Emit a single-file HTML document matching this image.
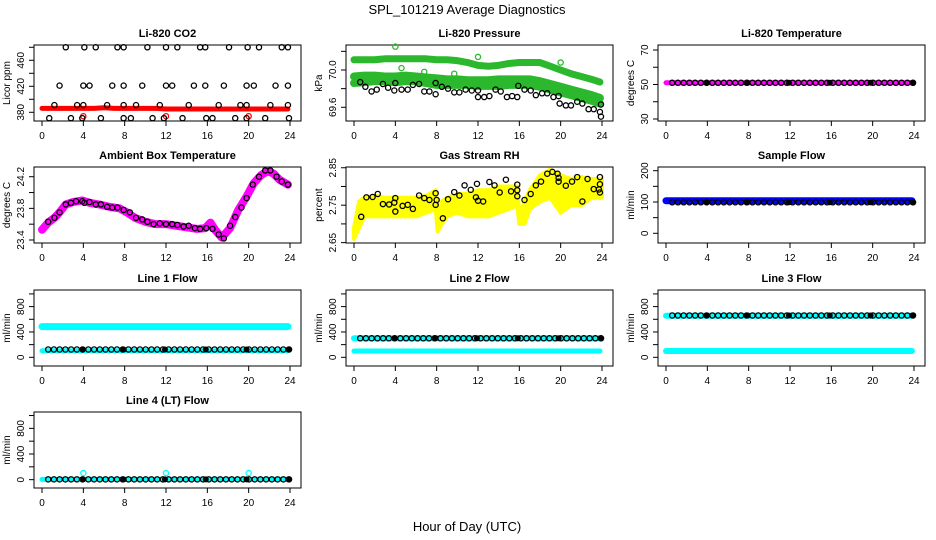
<!DOCTYPE html>
<html><head><meta charset="utf-8"><style>
body{margin:0;background:#fff}
svg{display:block;font-family:"Liberation Sans",Arial,sans-serif}
</style></head><body>
<svg id="chart" width="936" height="540" viewBox="0 0 936 540">
<text x="467" y="14" text-anchor="middle" font-size="13">SPL_101219  Average Diagnostics</text>
<text x="467" y="531" text-anchor="middle" font-size="13">Hour of Day (UTC)</text>
</svg>
<script>
// ---------- data ----------
const xTicks = [0,4,8,12,16,20,24];
const bandHours = [0,1,2,3,4,5,6,7,8,9,10,11,12,13,14,15,16,17,18,19,20,21,22,23,23.8];
// CO2
const co2Red = [386,386,386,386,386,386,387,386,386,386,386,386,385,385,385,385,385,385,385,385,385,385,385,385,385];
const co2BlackHours = [2.3,4.1,5.2,7.3,7.9,10.2,12.0,13.1,15.3,15.8,18.1,19.9,21.0,23.2,23.8,
 1.7,4.0,4.6,6.8,7.9,9.7,12.0,12.6,14.7,15.8,17.6,19.8,20.5,22.6,23.8,
 1.2,3.4,4.0,6.3,7.9,9.1,11.4,14.2,17.1,19.2,19.8,22.1,23.8,
 0.7,2.8,3.9,5.7,7.9,8.6,10.7,11.8,13.6,15.9,16.5,18.7,19.8,21.6,23.9];
const co2BlackVals = [480,480,480,480,480,480,480,480,480,480,480,480,480,480,480,
 421,421,421,421,421,421,421,421,421,421,421,421,421,421,421,
 391,391,391,391,391,391,391,391,391,391,391,391,391,
 371,371,371,371,371,371,371,371,371,371,371,371,371,371,371];
const co2RedOutHours = [4,12,20];
const co2RedOutVals = [374,374,374];
// Pressure
const presUpper = [70.11,70.11,70.11,70.12,70.12,70.12,70.12,70.12,70.11,70.11,70.10,70.08,70.05,70.04,70.05,70.07,70.08,70.08,70.08,70.04,70.00,69.96,69.93,69.90,69.87];
const presLowA = [69.93,69.94,69.94,69.93,69.93,69.94,69.93,69.92,69.91,69.90,69.90,69.89,69.89,69.89,69.90,69.90,69.90,69.90,69.88,69.85,69.82,69.79,69.76,69.73,69.70];
const presLowB = [69.86,69.87,69.88,69.88,69.87,69.88,69.88,69.86,69.84,69.84,69.84,69.84,69.83,69.83,69.83,69.84,69.84,69.84,69.82,69.79,69.76,69.73,69.70,69.67,69.64];
const presGreenOutHours = [4,12,20,4.6,9.7,6.8];
const presGreenOutVals = [70.25,70.14,70.08,70.02,69.96,69.98];
const presBlackHours = [0.6,1.1,1.7,2.2,2.8,3.3,3.9,4.0,4.6,5.2,5.7,6.3,6.8,7.3,7.9,7.9,8.5,9.1,9.7,10.2,10.8,11.4,12.0,12.0,12.6,13.1,13.7,14.2,14.8,15.3,15.8,15.9,16.5,17.1,17.6,18.2,18.7,19.3,19.8,19.9,20.5,21.0,21.6,22.1,22.7,23.2,23.8,23.9,23.9];
const presBlackVals = [69.87,69.82,69.77,69.79,69.85,69.81,69.78,69.86,69.79,69.79,69.84,69.85,69.77,69.77,69.74,69.86,69.82,69.80,69.76,69.76,69.79,69.78,69.78,69.71,69.71,69.72,69.79,69.77,69.71,69.72,69.71,69.83,69.79,69.78,69.73,69.75,69.75,69.71,69.72,69.64,69.62,69.62,69.66,69.64,69.58,69.58,69.55,69.50,69.63];
// Li-820 temperature
const tempBand = [51,51,51,51,51,51,51,51,51,51,51,51,51,51,51,51,51,51,51,51,51,51,51,51,51];
const tempBlack = [51,51,51,51,51,51,51,51,51,51,51,51,51,51,51,51,51,51,51,51,51,51,51,51];
// Ambient box temperature
const ambBandHours = [0,0.6,1.2,1.7,2.3,3,3.9,4.6,5.5,6.5,7.5,8.2,9,10,11,12,13,14,15,15.8,16.3,16.8,17.4,18.2,19,19.8,20.5,21.2,21.8,22.4,23,23.8];
const ambBandVals = [23.53,23.62,23.68,23.75,23.85,23.88,23.9,23.87,23.85,23.82,23.8,23.75,23.68,23.63,23.6,23.6,23.58,23.56,23.54,23.55,23.62,23.52,23.43,23.55,23.78,23.95,24.12,24.22,24.27,24.24,24.16,24.1];
const ambBlackHours = [0.6,1.2,1.7,2.3,2.8,3.3,3.9,4.1,4.6,5.2,5.7,6.3,6.8,7.3,7.9,8.5,9.1,9.7,10.2,10.8,11.4,12,12.6,13.1,13.7,14.2,14.8,15.3,15.9,16.5,17.1,17.6,18.2,18.7,19.3,19.8,20.4,21,21.6,22.1,22.7,23.2,23.8];
const ambBlackVals = [23.63,23.68,23.75,23.85,23.87,23.89,23.89,23.87,23.88,23.85,23.85,23.82,23.81,23.81,23.78,23.75,23.68,23.66,23.63,23.6,23.61,23.6,23.6,23.59,23.57,23.58,23.55,23.54,23.55,23.54,23.47,23.42,23.58,23.69,23.81,23.93,24.1,24.2,24.28,24.28,24.2,24.14,24.1];
// Gas stream RH
const rhHours = [0,0.5,1,2,3,4,5,6,7,7.9,8.1,8.5,9,10,11,12,13,14,15,15.8,16,16.5,17,18,19,20,21,22,23,24];
const rhUpper = [2.69,2.76,2.77,2.775,2.77,2.77,2.77,2.77,2.775,2.79,2.72,2.76,2.77,2.78,2.78,2.79,2.79,2.80,2.80,2.80,2.72,2.76,2.79,2.83,2.845,2.83,2.82,2.825,2.82,2.82];
const rhLower = [2.66,2.69,2.72,2.72,2.72,2.72,2.72,2.72,2.73,2.74,2.68,2.70,2.72,2.73,2.72,2.72,2.72,2.73,2.74,2.75,2.70,2.70,2.74,2.76,2.77,2.73,2.75,2.75,2.77,2.77];
const rhBlackHours = [0.7,1.2,1.8,2.3,2.8,3.4,3.9,4.0,4.0,4.7,5.2,5.7,6.3,6.8,7.3,7.9,7.9,8.0,8.6,9.1,9.7,10.2,10.7,11.3,11.8,11.9,12.0,12.5,13.1,13.6,14.1,14.7,15.2,15.8,15.8,15.8,16.5,17.1,17.6,18.1,18.7,19.2,19.7,19.8,19.8,20.5,21.1,21.6,22.1,22.6,23.2,23.7,23.8,23.8,23.8];
const rhBlackVals = [2.719,2.771,2.772,2.780,2.753,2.752,2.757,2.769,2.733,2.748,2.751,2.740,2.776,2.769,2.764,2.782,2.751,2.764,2.715,2.766,2.785,2.776,2.803,2.791,2.771,2.807,2.762,2.760,2.812,2.803,2.784,2.818,2.787,2.805,2.790,2.774,2.764,2.780,2.803,2.813,2.834,2.839,2.834,2.823,2.813,2.802,2.813,2.825,2.760,2.820,2.793,2.792,2.825,2.806,2.784];
// Sample flow
const sampleBand = [104,104,104,104,104,104,104,104,104,104,104,104,104,104,104,104,104,104,104,104,104,104,104,104,104];
const sampleBlack = [99,99,99,99,99,99,99,99,99,99,99,99,99,99,99,99,99,99,99,99,99,99,99,99];
// Line flows
const line1Upper = [485,485,485,485,485,485,485,485,485,485,485,485,485,485,485,485,485,485,485,485,485,485,485,485,485];
const line1Lower = [104,104,104,104,104,104,104,104,104,104,104,104,104,104,104,104,104,104,104,104,104,104,104,104,104];
const line1Black = [124,124,124,124,124,124,124,124,124,124,124,124,124,124,124,124,124,124,124,124,124,124,124,124];
const line2Upper = [300,300,300,300,300,300,300,300,300,300,300,300,300,300,300,300,300,300,300,300,300,300,300,300,300];
const line2Lower = [100,100,100,100,100,100,100,100,100,100,100,100,100,100,100,100,100,100,100,100,100,100,100,100,100];
const line2Black = [300,300,300,300,300,300,300,300,300,300,300,300,300,300,300,300,300,300,300,300,300,300,300,300];
const line3Upper = [655,655,655,655,655,655,655,655,655,655,655,655,655,655,655,655,655,655,655,655,655,655,655,655,655];
const line3Lower = [100,100,100,100,100,100,100,100,100,100,100,100,100,100,100,100,100,100,100,100,100,100,100,100,100];
const line3Black = [660,660,660,660,660,660,660,660,660,660,660,660,660,660,660,660,660,660,660,660,660,660,660,660];
const line4Band = [5,5,5,5,5,5,5,5,5,5,5,5,5,5,5,5,5,5,5,5,5,5,5,5,5];
const line4Black = [5,5,5,5,5,5,5,5,5,5,5,5,5,5,5,5,5,5,5,5,5,5,5,5];
const line4OutHours = [4,12,20];
const line4OutVals = [103,103,103];
const filledHours = [3.95,7.9,11.9,15.85,19.8,23.85];

// ---------- drawing ----------
const NS = "http://www.w3.org/2000/svg";
const svg = document.getElementById('chart');
const colX = [34,346,658], rowY = [45,167,290,412], BW = 267, BH = 76;
const circleHours = [];
for (let t = 0.6; t < 23.95; t += 0.555) circleHours.push(t);

function mk(tag, attrs, parent) {
  const e = document.createElementNS(NS, tag);
  for (const k in attrs) e.setAttribute(k, attrs[k]);
  (parent || svg).appendChild(e);
  return e;
}
function panel(col, row, title, ylab, ymin, ymax, yTicks, yLabels, name) {
  const L = colX[col], T = rowY[row];
  const g = mk('g', {});
  
  
  const p = {g, L, T,
    x: h => L + 8 + h * 248 / 24,
    y: v => T + BH - (v - ymin) / (ymax - ymin) * BH};
  const box = mk('rect', {x: L, y: T, width: BW, height: BH, fill: 'none', stroke: '#000', 'stroke-width': 1}, g);
  
  
  const tt = mk('text', {x: L + BW / 2, y: T - 8, 'text-anchor': 'middle', 'font-size': 11, 'font-weight': 'bold'}, g);
  tt.textContent = title;
  
  
  const xa = mk('g', {}, g);
  
  
  mk('line', {x1: p.x(0), x2: p.x(24), y1: T + BH, y2: T + BH, stroke: '#000'}, xa);
  xTicks.forEach(v => {
    mk('line', {x1: p.x(v), x2: p.x(v), y1: T + BH, y2: T + BH + 5, stroke: '#000'}, xa);
    const t = mk('text', {x: p.x(v), y: T + BH + 18, 'text-anchor': 'middle', 'font-size': 10}, xa);
    t.textContent = v;
    
    
  });
  const ya = mk('g', {}, g);
  
  
  mk('line', {x1: L, x2: L, y1: p.y(yTicks[0]), y2: p.y(yTicks[yTicks.length - 1]), stroke: '#000'}, ya);
  yTicks.forEach(v => mk('line', {x1: L - 5, x2: L, y1: p.y(v), y2: p.y(v), stroke: '#000'}, ya));
  yLabels.forEach(s => {
    const v = parseFloat(s);
    const t = mk('text', {x: L - 10, y: p.y(v), 'text-anchor': 'middle', 'font-size': 10,
      transform: `rotate(-90 ${L - 10} ${p.y(v)})`}, ya);
    t.textContent = s;
    
    
  });
  const yl = mk('text', {x: L - 24, y: T + BH / 2, 'text-anchor': 'middle', 'font-size': 10,
    transform: `rotate(-90 ${L - 24} ${T + BH / 2})`}, g);
  yl.textContent = ylab;
  
  
  return p;
}
function band(p, hrs, vals, color, w, name) {
  const pl = mk('polyline', {points: hrs.map((h, i) => p.x(h) + ',' + p.y(vals[i])).join(' '),
    fill: 'none', stroke: color, 'stroke-width': w, 'stroke-linejoin': 'round', 'stroke-linecap': 'round'}, p.g);
  
  
}
function pts(p, hrs, vals, color, name) {
  const g = mk('g', {}, p.g);
  
  
  hrs.forEach((h, i) => mk('circle', {cx: p.x(h), cy: p.y(vals[i]), r: 2.6, fill: 'none', stroke: color, 'stroke-width': 1.3}, g));
}
function hourly(p, arr, name) {
  const g = mk('g', {}, p.g);
  
  
  circleHours.forEach(h => mk('circle', {cx: p.x(h), cy: p.y(arr[Math.min(23, Math.floor(h))]), r: 2.6, fill: 'none', stroke: '#000', 'stroke-width': 1.3}, g));
  filledHours.forEach(h => mk('circle', {cx: p.x(h), cy: p.y(arr[Math.min(23, Math.floor(h))]), r: 3, fill: '#000'}, g));
}

// Li-820 CO2
let p = panel(0, 0, 'Li-820 CO2', 'Licor ppm', 366.6, 483.5, [380,400,420,440,460,480], ['380','420','460'], 'co2');
band(p, bandHours, co2Red, '#f00', 5, 'co2-red-series');
pts(p, co2RedOutHours, co2RedOutVals, '#f00', 'co2-red-outliers');
pts(p, co2BlackHours, co2BlackVals, '#000', 'co2-black-series');

// Pressure
p = panel(1, 0, 'Li-820 Pressure', 'kPa', 69.453, 70.268, [69.6,69.8,70.0,70.2], ['69.6','70.0'], 'pressure');
band(p, bandHours, presUpper, '#2cb82c', 7, 'pressure-green-upper');
band(p, bandHours, presLowA, '#2cb82c', 8, 'pressure-green-lower-a');
band(p, bandHours, presLowB, '#2cb82c', 8, 'pressure-green-lower-b');
pts(p, presGreenOutHours, presGreenOutVals, '#2cb82c', 'pressure-green-outliers');
pts(p, presBlackHours, presBlackVals, '#000', 'pressure-black-series');

// Li-820 temperature
p = panel(2, 0, 'Li-820 Temperature', 'degrees C', 28.84, 72.9, [30,40,50,60,70], ['30','50','70'], 'li820-temp');
band(p, bandHours, tempBand, '#f0f', 5, 'li820-temp-magenta');
hourly(p, tempBlack, 'li820-temp-black');

// Ambient
p = panel(0, 1, 'Ambient Box Temperature', 'degrees C', 23.362, 24.323, [23.4,23.6,23.8,24.0,24.2], ['23.4','23.8','24.2'], 'ambient');
band(p, ambBandHours, ambBandVals, '#f0f', 8, 'ambient-magenta');
pts(p, ambBlackHours, ambBlackVals, '#000', 'ambient-black');

// RH
p = panel(1, 1, 'Gas Stream RH', 'percent', 2.649, 2.852, [2.65,2.70,2.75,2.80,2.85], ['2.65','2.75','2.85'], 'rh');
{
  const poly = rhHours.map((h, i) => p.x(h) + ',' + p.y(rhUpper[i])).concat(
    rhHours.slice().reverse().map((h, j) => p.x(h) + ',' + p.y(rhLower[rhHours.length - 1 - j]))).join(' ');
  const pg = mk('polygon', {points: poly, fill: '#ff0', stroke: '#ff0', 'stroke-width': 4, 'stroke-linejoin': 'round'}, p.g);
  
  
}
pts(p, rhBlackHours, rhBlackVals, '#000', 'rh-black');

// Sample flow
p = panel(2, 1, 'Sample Flow', 'ml/min', -31, 211.8, [0,50,100,150,200], ['0','100','200'], 'sample-flow');
band(p, bandHours, sampleBand, '#00f', 7, 'sample-flow-blue');
hourly(p, sampleBlack, 'sample-flow-black');

const fTicks = [0,200,400,600,800,1000], fLabels = ['0','400','800'];
p = panel(0, 2, 'Line 1 Flow', 'ml/min', -137, 1062, fTicks, fLabels, 'line1');
band(p, bandHours, line1Upper, '#0ff', 7, 'line1-cyan-upper');
band(p, bandHours, line1Lower, '#0ff', 5, 'line1-cyan-lower');
hourly(p, line1Black, 'line1-black');

p = panel(1, 2, 'Line 2 Flow', 'ml/min', -137, 1062, fTicks, fLabels, 'line2');
band(p, bandHours, line2Upper, '#0ff', 6, 'line2-cyan-upper');
band(p, bandHours, line2Lower, '#0ff', 5, 'line2-cyan-lower');
hourly(p, line2Black, 'line2-black');

p = panel(2, 2, 'Line 3 Flow', 'ml/min', -137, 1062, fTicks, fLabels, 'line3');
band(p, bandHours, line3Upper, '#0ff', 6, 'line3-cyan-upper');
band(p, bandHours, line3Lower, '#0ff', 6, 'line3-cyan-lower');
hourly(p, line3Black, 'line3-black');

p = panel(0, 3, 'Line 4 (LT) Flow', 'ml/min', -130, 1055, fTicks, fLabels, 'line4');
band(p, bandHours, line4Band, '#0ff', 5, 'line4-cyan');
pts(p, line4OutHours, line4OutVals, '#0ff', 'line4-cyan-outliers');
hourly(p, line4Black, 'line4-black');
</script>
</body></html>
